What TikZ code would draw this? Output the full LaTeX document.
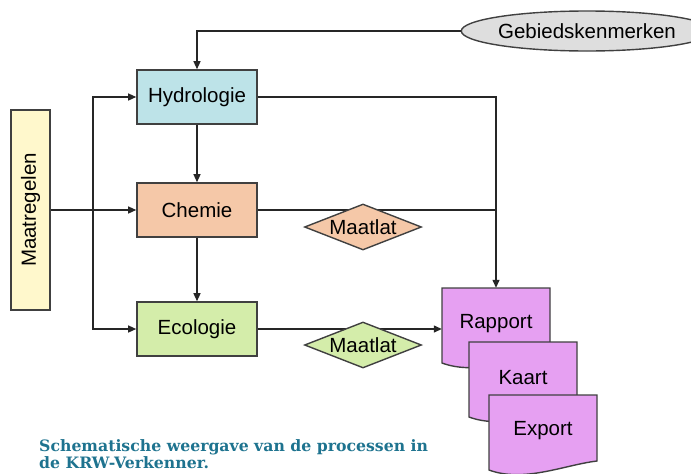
\documentclass[tikz,border=0pt]{standalone}
\usepackage{fontspec}
\setmainfont{Liberation Sans}
\newfontfamily\captionfont{DejaVu Serif}
\usetikzlibrary{shapes.geometric,arrows.meta}
\definecolor{hydrofill}{HTML}{BDE3E8}
\definecolor{chemfill}{HTML}{F5C8A8}
\definecolor{ecofill}{HTML}{D4EDAA}
\definecolor{maatfill}{HTML}{FFF8CC}
\definecolor{gebiedfill}{HTML}{DEDEDE}
\definecolor{docfill}{HTML}{E6A0F2}
\definecolor{captioncol}{HTML}{1E738F}
% document sheet: name, left, top, text
\newcommand{\docblad}[4]{%
  \draw[draw=black!75, line width=1.4pt, fill=docfill] (#2,#3) -- (#2+108,#3) -- (#2+108,#3+66)
    .. controls (#2+75,#3+70) and (#2+35,#3+88) .. (#2,#3+75) -- cycle;
  \node[minimum width=108pt, minimum height=72pt, inner sep=0pt] (#1) at (#2+54,#3+36) {#4};}
\begin{document}
\begin{tikzpicture}[x=1pt, y=-1pt, font=\fontsize{20.5}{24}\selectfont,
    line/.style={draw=black!85, line width=1.3pt},
    pijl/.style={line, -{Triangle[length=8pt,width=7pt]}},
    box/.style={draw=black!75, line width=1.6pt, minimum width=120pt, minimum height=54pt, inner sep=0pt},
    ruit/.style={diamond, draw=black!75, line width=1.4pt, minimum width=117pt, minimum height=46pt, inner sep=0pt}]
    \useasboundingbox (0,0) rectangle (691,474);
    % Processes
    \node[box, fill=maatfill, rotate=90, minimum width=200pt, minimum height=39pt] (maatregelen) at (30.5,210) {Maatregelen};
    \node[box, fill=hydrofill] (hydro) at (197,97) {Hydrologie};
    \node[box, fill=chemfill] (chemie) at (197,210) {Chemie};
    \node[box, fill=ecofill] (eco) at (197,329) {Ecologie};
    \node[ellipse, draw=black!75, line width=1.4pt, fill=gebiedfill, minimum width=207pt, minimum height=40pt, inner sep=0pt] (gebied) at (587,31) {Gebiedskenmerken};
    \docblad{rapport}{442}{288}{Rapport}
    \coordinate (split) at (93,210);
    % Connectors
    \draw[pijl] (gebied.west) -| (hydro.north);
    \draw[pijl] (maatregelen) -- (chemie);
    \draw[pijl] (split) |- (hydro.west);
    \draw[pijl] (split) |- (eco.west);
    \draw[pijl] (hydro) -- (chemie);
    \draw[pijl] (chemie) -- (eco);
    \draw[pijl] (hydro.east) -| (rapport.north);
    \draw[line] (chemie.east) -- (chemie.east -| rapport.north);
    \draw[pijl] (eco.east) -- (eco.east -| rapport.west);
    \node[ruit, fill=chemfill] (maatlat1) at (363,227) {\makebox[0pt]{Maatlat}};
    \node[ruit, fill=ecofill] (maatlat2) at (363,345) {\makebox[0pt]{Maatlat}};
    \docblad{kaart}{469}{342}{Kaart}
    \docblad{export}{489}{395}{Export}
    \node[anchor=north west, align=left, inner sep=0pt, text=captioncol, font=\captionfont\bfseries\fontsize{15.7}{17}\selectfont] (caption) at (39,439) {Schematische weergave van de processen in\\de KRW-Verkenner.};
\end{tikzpicture}
\end{document}
